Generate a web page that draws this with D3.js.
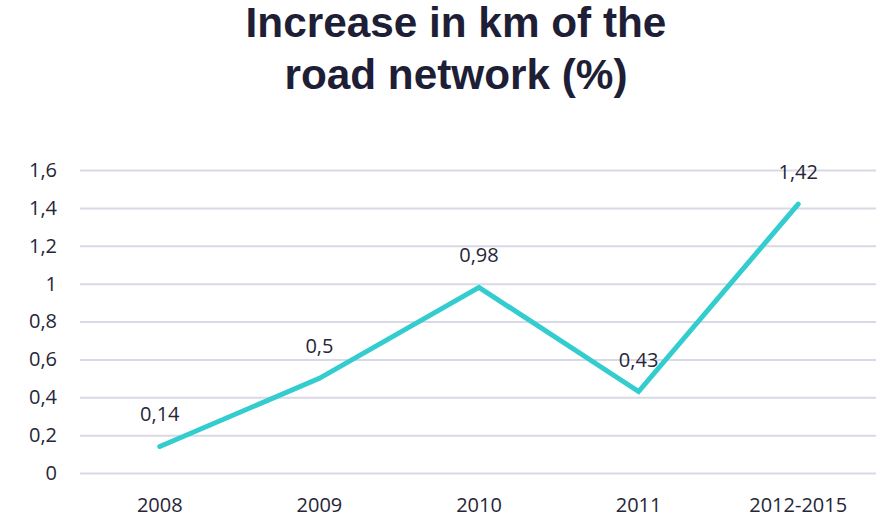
<!DOCTYPE html>
<html><head><meta charset="utf-8">
<script src="https://cdn.jsdelivr.net/npm/d3@7"></script>
<style>body{margin:0;background:#fff}svg{display:block}</style>
</head><body>
<svg id="c" width="884" height="526"></svg>
<script>
const categories = ["2008","2009","2010","2011","2012-2015"];
const values = [0.14, 0.5, 0.98, 0.43, 1.42];
const yTicks = [0,0.2,0.4,0.6,0.8,1,1.2,1.4,1.6];
const titleLines = ["Increase in km of the","road network (%)"];

const svg = d3.select("#c");
const W=884,H=526;
const m={left:80,right:6,top:170,bottom:53};
const x = d3.scaleBand().domain(categories).range([m.left, W-m.right]);
const y = d3.scaleLinear().domain([0,1.6]).range([H-m.bottom, m.top]);
const fmt = v => String(v).replace(".", ",");
const textColor = "#262637";
const font = "'Open Sans', sans-serif";

svg.append("text").attr("text-anchor","middle")
  .attr("font-family","'Liberation Sans', Arial, sans-serif").attr("font-weight","bold")
  .attr("font-size",42.3).attr("fill","#1e1e36")
  .selectAll("tspan").data(titleLines).join("tspan")
  .attr("x",456).attr("y",(d,i)=>37+i*52).text(d=>d);

const ga = svg.append("g").attr("transform",`translate(${m.left},0)`)
  .call(d3.axisLeft(y).tickValues(yTicks).tickFormat(fmt).tickSize(-(W-m.left-m.right-2)).tickPadding(23));
ga.select(".domain").remove();
ga.selectAll(".tick line").attr("stroke","#d9d9e6").attr("stroke-width",2);
ga.selectAll(".tick text").attr("fill",textColor).attr("font-family",font).attr("font-size",20);

const gx = svg.append("g").attr("transform",`translate(0,${H-m.bottom})`)
  .call(d3.axisBottom(x).tickSize(0));
gx.select(".domain").remove();
gx.selectAll(".tick text").attr("y",39).attr("dy",0).attr("fill",textColor).attr("font-family",font).attr("font-size",20);

const line = d3.line().x((d,i)=>x(categories[i])+x.bandwidth()/2).y(d=>y(d));
svg.append("path").datum(values).attr("d",line).attr("fill","none")
  .attr("stroke","#33CCCF").attr("stroke-width",5).attr("stroke-linecap","round").attr("stroke-linejoin","miter");

svg.selectAll(".lbl").data(values).join("text").attr("class","lbl")
  .attr("x",(d,i)=>x(categories[i])+x.bandwidth()/2).attr("y",d=>y(d)-25)
  .attr("text-anchor","middle").attr("fill",textColor).attr("font-family",font).attr("font-size",20)
  .text(fmt);
</script>
</body></html>
